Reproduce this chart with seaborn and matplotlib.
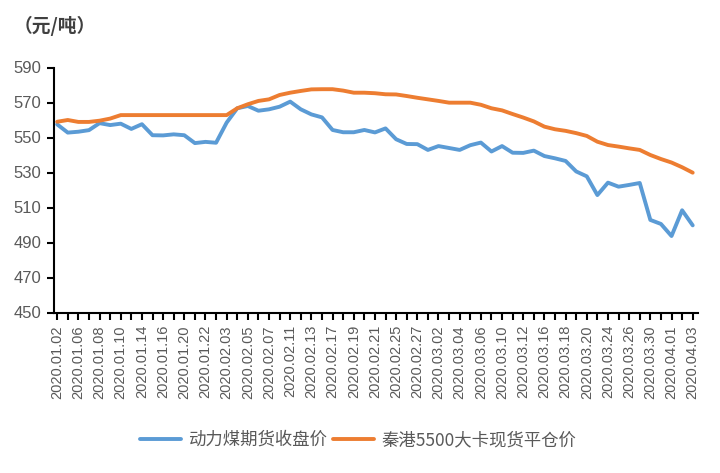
import numpy as np
import pandas as pd
import matplotlib
matplotlib.use("Agg")
import matplotlib.pyplot as plt
import seaborn as sns

# trading days, 2020
dates = (["2020.01." + d for d in ["02", "03", "06", "07", "08", "09", "10", "13", "14", "15",
                                    "16", "17", "20", "21", "22", "23"]]
         + ["2020.02." + d for d in ["03", "04", "05", "06", "07", "10", "11", "12", "13", "14",
                                      "17", "18", "19", "20", "21", "24", "25", "26", "27", "28"]]
         + ["2020.03." + d for d in ["02", "03", "04", "05", "06", "09", "10", "11", "12", "13",
                                      "16", "17", "18", "19", "20", "23", "24", "25", "26", "27",
                                      "30", "31"]]
         + ["2020.04." + d for d in ["01", "02", "03"]])

futures = [557.5, 552.8, 553.3, 554.2, 558.2, 557.1, 557.9, 554.9, 557.6, 551.3,
           551.2, 551.8, 551.3, 546.8, 547.5, 547.0, 558.5, 566.7, 568.0, 565.3,
           566.1, 567.6, 570.5, 566.1, 563.2, 561.5, 554.3, 553.0, 553.0, 554.3,
           552.9, 555.2, 549.0, 546.3, 546.2, 542.9, 545.1, 544.0, 542.9, 545.6,
           547.1, 542.0, 545.1, 541.3, 541.2, 542.5, 539.4, 538.1, 536.6, 530.6,
           527.8, 517.1, 524.2, 521.9, 522.9, 524.0, 502.9, 500.6, 493.7, 508.4,
           499.8]

spot = [559.0, 560.0, 558.9, 558.9, 559.6, 560.8, 562.8, 562.8, 562.8, 562.8,
        562.8, 562.8, 562.8, 562.8, 562.8, 562.8, 562.8, 566.7, 569.0, 570.9,
        571.8, 574.3, 575.6, 576.6, 577.5, 577.6, 577.6, 576.8, 575.6, 575.6,
        575.3, 574.7, 574.6, 573.7, 572.7, 571.8, 570.9, 569.9, 569.9, 569.9,
        568.7, 566.7, 565.5, 563.4, 561.4, 559.2, 556.2, 554.7, 553.8, 552.5,
        550.9, 547.6, 545.7, 544.8, 543.8, 542.9, 540.0, 537.7, 535.7, 533.0,
        529.9]

series_names = ["动力煤期货收盘价", "秦港5500大卡现货平仓价"]
yticks = [450, 470, 490, 510, 530, 550, 570, 590]

df = pd.DataFrame({
    "pos": list(range(len(dates))) * 2,
    "price": futures + spot,
    "series": [series_names[0]] * len(dates) + [series_names[1]] * len(dates),
})

sns.set_theme(style="white")
plt.rcParams["font.family"] = ["Liberation Sans", "Noto Sans CJK SC", "DejaVu Sans"]

fig = plt.figure(figsize=(7.2, 4.73), dpi=100)
ax = fig.add_axes([54 / 720, 1 - 312.5 / 473, (698 - 54) / 720, (312.5 - 67.5) / 473])

sns.lineplot(data=df, x="pos", y="price", hue="series", hue_order=series_names,
             palette=["#5B9BD5", "#ED7D31"], linewidth=2.8, ax=ax)

ax.set_xlim(-0.3, 60.5)
ax.set_ylim(450, 590)
ax.set_yticks(yticks)
ax.set_yticklabels([str(v) for v in yticks], fontsize=12, color="#595959")
ax.set_xticks(range(len(dates)))
ax.set_xticklabels([d if i % 2 == 0 else "" for i, d in enumerate(dates)],
                   rotation=90, fontsize=10.5, color="#595959")
ax.tick_params(axis="y", direction="out", length=5, width=1.5, color="black", pad=4, left=True)
ax.tick_params(axis="x", direction="out", length=5, width=1.5, color="black", pad=4, bottom=True)
ax.set_xlabel("")
ax.set_ylabel("")
sns.despine(ax=ax)
for s in ["left", "bottom"]:
    ax.spines[s].set_color("black")
    ax.spines[s].set_linewidth(1.5)

fig.text(14 / 720, 1 - 26 / 473, "（元/吨）", fontsize=13.5, color="#404040",
         va="center", ha="left", family=["Noto Sans CJK SC", "DejaVu Sans"], fontweight="bold")

ax.legend_.remove()
handles, labels = ax.get_legend_handles_labels()
fig.legend(handles, labels, loc="center", bbox_to_anchor=(0.497, 1 - 440 / 473), ncol=2,
           frameon=False, handlelength=2.4, handletextpad=0.4,
           columnspacing=0.3, labelcolor="#595959",
           prop={"family": ["Noto Sans CJK SC", "DejaVu Sans"], "size": 12.5})

fig.savefig("out.png", dpi=100)
